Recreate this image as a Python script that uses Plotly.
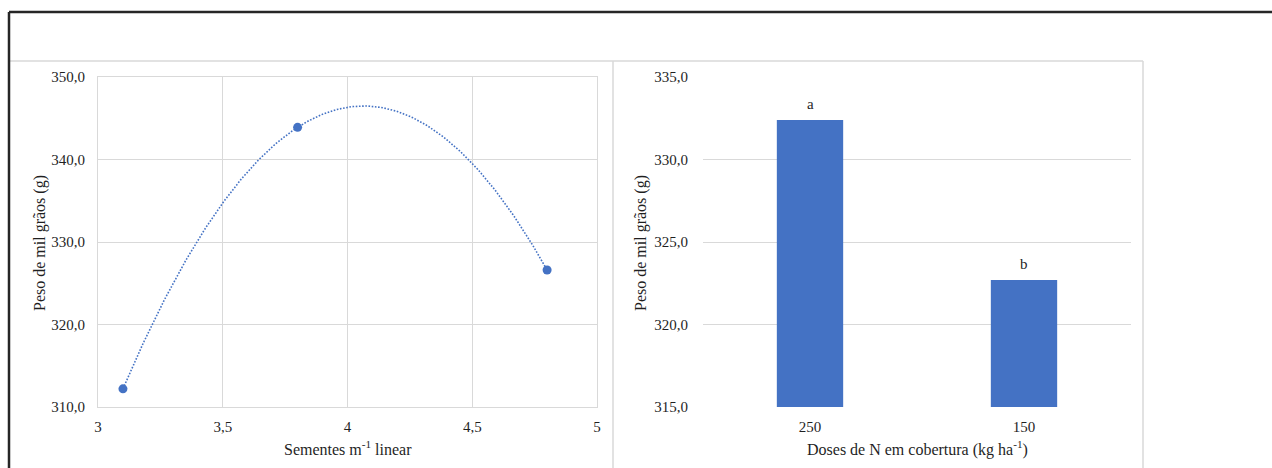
import numpy as np
import plotly.graph_objects as go

# ---- data ----
seeds_x = [3.1, 3.8, 4.8]
seeds_y = [312.2, 343.9, 326.6]
dose_cats = ["250", "150"]
dose_vals = [332.4, 322.7]
dose_letters = ["a", "b"]
left_xticks = [3, 3.5, 4, 4.5, 5]
left_yticks = [310, 320, 330, 340, 350]
right_yticks = [315, 320, 325, 330, 335]

W, H = 1272, 468
BLUE = "#4472C4"
GRID = "#d9d9d9"
FONT = "Liberation Serif"
TXT = "#1f1f1f"

def px(x):
    return x / W

def py(y):
    return (H - y) / H

# quadratic trendline fitted from data
coef = np.polyfit(seeds_x, seeds_y, 2)
tx = np.linspace(min(seeds_x), max(seeds_x), 200)
ty = np.polyval(coef, tx)

fig = go.Figure()
fig.add_trace(go.Scatter(x=tx, y=ty, mode="lines",
                         line=dict(color=BLUE, width=1.6, dash="1.6px,1.6px"),
                         xaxis="x", yaxis="y", showlegend=False, hoverinfo="skip"))
fig.add_trace(go.Scatter(x=seeds_x, y=seeds_y, mode="markers",
                         marker=dict(color=BLUE, size=9),
                         xaxis="x", yaxis="y", showlegend=False))
fig.add_trace(go.Bar(x=dose_cats, y=dose_vals, marker=dict(color=BLUE, line=dict(width=0)),
                     width=0.31, xaxis="x2", yaxis="y2", showlegend=False))

fig.update_layout(
    template="none",
    width=W, height=H,
    margin=dict(l=0, r=0, t=0, b=0, pad=0),
    paper_bgcolor="white", plot_bgcolor="white",
    separators=",.",
    font=dict(family=FONT, size=15, color=TXT),
    xaxis=dict(domain=[px(98), px(597)], range=[3, 5], tickvals=left_xticks, automargin=False,
               showgrid=True, gridcolor=GRID, showline=True, linecolor=GRID, mirror=True,
               zeroline=False, ticks="outside", ticklen=6, tickcolor="rgba(0,0,0,0)",
               anchor="y"),
    yaxis=dict(domain=[py(407), py(77)], range=[310, 350], tickvals=left_yticks,
               automargin=False,
               tickformat=".1f", showgrid=True, gridcolor=GRID, showline=True,
               linecolor=GRID, mirror=True, zeroline=False,
               ticks="outside", ticklen=9, tickcolor="rgba(0,0,0,0)", anchor="x"),
    xaxis2=dict(domain=[px(703), px(1131)], type="category", range=[-0.5, 1.5],
                automargin=False, showgrid=False, showline=False,
                zeroline=False, ticks="outside", ticklen=6, tickcolor="rgba(0,0,0,0)",
                anchor="y2"),
    yaxis2=dict(domain=[py(407), py(77)], range=[315, 335], tickvals=right_yticks,
                automargin=False,
                tickformat=".1f", showgrid=True, gridcolor=GRID, showline=False,
                zeroline=False, ticks="outside", ticklen=11, tickcolor="rgba(0,0,0,0)",
                anchor="x2"),
)

annotations = [
    dict(text="Peso de mil grãos (g)", x=px(40), y=py(243), xref="paper", yref="paper",
         textangle=-90, showarrow=False, xanchor="center", yanchor="middle",
         font=dict(size=16)),
    dict(text="Peso de mil grãos (g)", x=px(641), y=py(243), xref="paper", yref="paper",
         textangle=-90, showarrow=False, xanchor="center", yanchor="middle",
         font=dict(size=16)),
    dict(text="Sementes m<sup>-1</sup> linear", x=px(347.5), y=py(448), xref="paper",
         yref="paper", showarrow=False, xanchor="center", yanchor="middle",
         font=dict(size=16)),
    dict(text="Doses de N em cobertura (kg ha<sup>-1</sup>)", x=px(917), y=py(448),
         xref="paper", yref="paper", showarrow=False, xanchor="center", yanchor="middle",
         font=dict(size=16)),
]
for i, (v, l) in enumerate(zip(dose_vals, dose_letters)):
    annotations.append(dict(text=l, x=i, y=v, xref="x2", yref="y2", showarrow=False,
                            yanchor="bottom", yshift=6))
fig.update_layout(annotations=annotations)

shapes = [
    # light panel borders
    dict(type="line", xref="paper", yref="paper", x0=px(10), x1=px(1143), y0=py(61), y1=py(61),
         line=dict(color=GRID, width=1.5)),
    dict(type="line", xref="paper", yref="paper", x0=px(613), x1=px(613), y0=py(61), y1=0,
         line=dict(color=GRID, width=1.5)),
    dict(type="line", xref="paper", yref="paper", x0=px(1143), x1=px(1143), y0=py(61), y1=0,
         line=dict(color=GRID, width=1.5)),
    # outer dark frame
    dict(type="line", xref="paper", yref="paper", x0=px(9), x1=1, y0=py(12), y1=py(12),
         line=dict(color="#262626", width=2.5)),
    dict(type="line", xref="paper", yref="paper", x0=px(9), x1=px(9), y0=py(12), y1=0,
         line=dict(color="#262626", width=2.5)),
]
fig.update_layout(shapes=shapes)

post = ("document.body.style.margin='0';document.body.style.padding='0';"
        "document.body.style.overflow='hidden';"
        "document.documentElement.style.overflow='hidden';")
fig.write_html("out.html", post_script=post, config={"displayModeBar": False})
